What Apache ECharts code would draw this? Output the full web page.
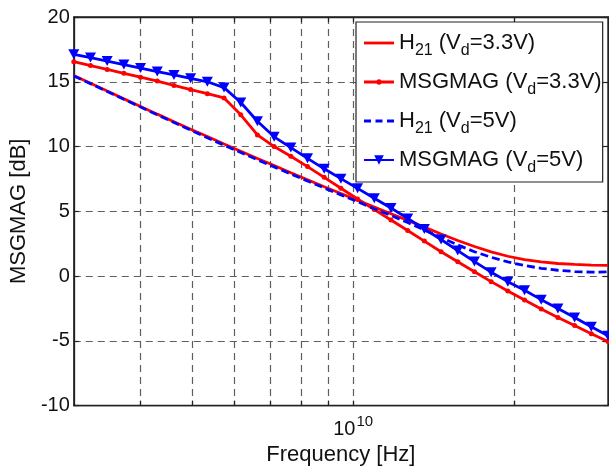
<!DOCTYPE html>
<html>
<head>
<meta charset="utf-8">
<script src="https://cdn.jsdelivr.net/npm/echarts@6/dist/echarts.min.js"></script>
<style>
html,body{margin:0;padding:0;background:#fff;}
#chart{width:609px;height:471px;}
</style>
</head>
<body>
<div id="chart"></div>
<script>
// Frequencies in GHz (log-spaced samples)
const freqGHz = [3.000,3.224,3.464,3.723,4.000,4.299,4.620,4.964,5.335,5.733,6.161,6.620,7.114,7.645,8.215,8.828,9.487,10.194,10.955,11.772,12.651,13.594,14.609,15.699,16.870,18.129,19.481,20.935,22.497,24.175,25.979,27.917,30.000];
// H21 (Vd=3.3V)
const h21_33 = [15.48,14.88,14.28,13.68,13.09,12.50,11.92,11.34,10.77,10.20,9.64,9.08,8.53,7.98,7.44,6.90,6.37,5.84,5.32,4.81,4.30,3.78,3.25,2.75,2.28,1.87,1.53,1.27,1.09,0.97,0.90,0.85,0.83];
// MSGMAG (Vd=3.3V)
const msg_33 = [16.55,16.25,15.95,15.65,15.35,15.05,14.72,14.40,14.08,13.75,12.45,10.90,10.00,9.25,8.45,7.62,6.78,5.95,5.13,4.33,3.52,2.70,1.88,1.10,0.33,-0.43,-1.15,-1.85,-2.55,-3.20,-3.82,-4.45,-5.05];
// H21 (Vd=5V)
const h21_5 = [15.45,14.85,14.25,13.65,13.05,12.45,11.86,11.27,10.68,10.10,9.54,8.98,8.43,7.88,7.34,6.80,6.27,5.74,5.20,4.68,4.13,3.56,2.97,2.40,1.88,1.45,1.09,0.81,0.60,0.45,0.35,0.30,0.32];
// MSGMAG (Vd=5V)
const msg_5 = [17.12,16.87,16.60,16.33,16.06,15.79,15.53,15.27,15.00,14.55,13.40,11.95,10.75,9.92,9.09,8.28,7.52,6.77,6.01,5.25,4.45,3.63,2.82,1.97,1.12,0.30,-0.43,-1.10,-1.82,-2.50,-3.20,-3.92,-4.60];
// Grid positions on the frequency axis (Hz)
const xGridHz = [4e9,5e9,6e9,7e9,8e9,9e9,1e10,2e10];
const xLabelHz = [1e10];
const xRangeHz = [3e9, 3e10];
const yTicks = {min:-10, max:20, interval:5};

const seriesNames = ['H21 (Vd=3.3V)','MSGMAG (Vd=3.3V)','H21 (Vd=5V)','MSGMAG (Vd=5V)'];
const legendRich = {
  'H21 (Vd=3.3V)': '{n|H}{s|21}{n| (V}{s|d}{n|=3.3V)}',
  'MSGMAG (Vd=3.3V)': '{n|MSGMAG (V}{s|d}{n|=3.3V)}',
  'H21 (Vd=5V)': '{n|H}{s|21}{n| (V}{s|d}{n|=5V)}',
  'MSGMAG (Vd=5V)': '{n|MSGMAG (V}{s|d}{n|=5V)}'
};
// legend icon shapes (line samples)
const iconSolid = 'path://M0,4.6L30,4.6L30,7.4L0,7.4Z';
const iconDot = 'path://M0,4.6L30,4.6L30,7.4L0,7.4Z M12.3,6A2.7,2.7 0 1,1 17.7,6A2.7,2.7 0 1,1 12.3,6Z';
const iconDash = 'path://M0,4.6L7,4.6L7,7.4L0,7.4Z M11.5,4.6L18.5,4.6L18.5,7.4L11.5,7.4Z M23,4.6L30,4.6L30,7.4L23,7.4Z';

const FONT = '"Liberation Sans", Arial, Helvetica, sans-serif';
const lg = v => Math.log10(v);
const toPts = vals => vals.map((v,i) => [lg(freqGHz[i]*1e9), v]);

const chart = echarts.init(document.getElementById('chart'), null, {renderer:'canvas'});

const gridLine = {show:true, lineStyle:{color:'#5e5e5e', width:1.2, type:[7,5]}};
const axisLineS = {show:true, onZero:false, lineStyle:{color:'#222', width:1.3}};

chart.setOption({
  animation:false,
  backgroundColor:'#fff',
  grid:{left:71, right:1, top:17, bottom:58, show:true, borderColor:'#222', borderWidth:1.3},
  xAxis:[{
    type:'value', position:'bottom',
    min:lg(xRangeHz[0]), max:lg(xRangeHz[1]),
    axisLine:axisLineS,
    axisTick:{show:true, inside:true, length:5, customValues:xGridHz.map(lg), lineStyle:{color:'#222', width:1.2}},
    axisLabel:{show:true, customValues:xLabelHz.map(lg), margin:9,
      formatter:()=> '{b|10}{p|10}',
      rich:{b:{fontSize:20, fontFamily:FONT, color:'#111'}, p:{fontSize:15, fontFamily:FONT, color:'#111', padding:[0,0,14,1]}}},
    splitLine:gridLine,
    name:'Frequency [Hz]', nameLocation:'middle', nameGap:37,
    nameTextStyle:{fontSize:22, fontFamily:FONT, color:'#111'}
  },{
    type:'value', position:'top',
    min:lg(xRangeHz[0]), max:lg(xRangeHz[1]),
    axisLine:axisLineS,
    axisTick:{show:true, inside:true, length:5, customValues:xGridHz.map(lg), lineStyle:{color:'#222', width:1.2}},
    axisLabel:{show:false}, splitLine:{show:false}
  }],
  yAxis:[{
    type:'value', position:'left',
    min:yTicks.min, max:yTicks.max, interval:yTicks.interval,
    axisLine:axisLineS,
    axisTick:{show:true, inside:true, length:5, lineStyle:{color:'#222', width:1.2}},
    axisLabel:{fontSize:20, fontFamily:FONT, color:'#111', margin:4},
    splitLine:gridLine,
    name:'MSGMAG [dB]', nameLocation:'middle', nameGap:32,
    nameTextStyle:{fontSize:22, fontFamily:FONT, color:'#111'}
  },{
    type:'value', position:'right',
    min:yTicks.min, max:yTicks.max, interval:yTicks.interval,
    axisLine:axisLineS,
    axisTick:{show:true, inside:true, length:5, lineStyle:{color:'#222', width:1.2}},
    axisLabel:{show:false}, splitLine:{show:false}
  }],
  legend:{
    orient:'vertical', left:356, top:22,
    padding:[10,1,6,7], itemGap:12,
    itemWidth:30, itemHeight:12,
    backgroundColor:'#fff', borderColor:'#222', borderWidth:1.2,
    data:[
      {name:seriesNames[0], icon:iconSolid},
      {name:seriesNames[1], icon:iconDot},
      {name:seriesNames[2], icon:iconDash},
      {name:seriesNames[3]}
    ],
    formatter:name => legendRich[name],
    textStyle:{color:'#111', fontFamily:FONT,
      rich:{n:{fontSize:22, fontFamily:FONT, color:'#111'}, s:{fontSize:16, fontFamily:FONT, color:'#111', padding:[16,0,0,0]}}}
  },
  series:[
    {name:seriesNames[0], type:'line', data:toPts(h21_33), showSymbol:false, symbol:'none',
      lineStyle:{color:'#ff0000', width:2.8}, itemStyle:{color:'#ff0000'}, z:2},
    {name:seriesNames[1], type:'line', data:toPts(msg_33), symbol:'circle', symbolSize:5,
      lineStyle:{color:'#ff0000', width:2.8}, itemStyle:{color:'#ff0000'}, z:3},
    {name:seriesNames[2], type:'line', data:toPts(h21_5), showSymbol:false, symbol:'none',
      lineStyle:{color:'#0000ff', width:2.8, type:[8,4]}, itemStyle:{color:'#0000ff'}, z:4},
    {name:seriesNames[3], type:'line', data:toPts(msg_5), symbol:'triangle', symbolRotate:180, symbolSize:[11,10],
      lineStyle:{color:'#0000ff', width:2.8}, itemStyle:{color:'#0000ff'}, z:5}
  ]
});
</script>
</body>
</html>
